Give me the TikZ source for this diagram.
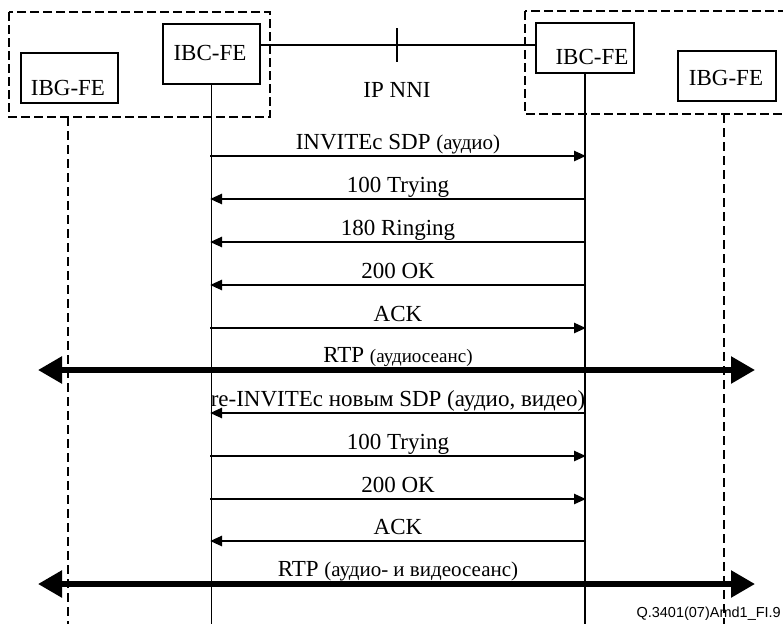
\documentclass[tikz,border=0pt]{standalone}
\usepackage{fontspec}
\setmainfont{Liberation Serif}
\newfontfamily\footfont{Liberation Sans}
\usetikzlibrary{arrows.meta,calc}
\begin{document}
\begin{tikzpicture}[x=1pt,y=-1pt,
  box/.style={draw,line width=2pt,inner sep=0pt,anchor=north west},
  group/.style={draw,line width=2.5pt,dash pattern=on 9pt off 4pt},
  life/.style={line width=1.5pt},
  glife/.style={line width=2.2pt,dash pattern=on 9pt off 5pt},
  msg/.style={line width=2.5pt,-{Triangle[length=12pt,width=10pt]}},
  rtp/.style={line width=5.5pt,{Triangle[length=24pt,width=26pt]}-{Triangle[length=24pt,width=26pt]}},
  lbl/.style={font=\fontsize{23}{26}\selectfont,inner sep=0pt,anchor=base},
]
\useasboundingbox (0,0) rectangle (783,624);
\clip (0,0) rectangle (783,624);
% groups
\draw[group] (9,12) rectangle (270,117);
\draw[group] (525,11) rectangle (800,114);
% boxes
\node[box,minimum width=97pt,minimum height=60pt] (ibcL) at (162,23) {};
\node[lbl] (ibcLt) at (210,60) {IBC-FE};
\node[box,minimum width=97pt,minimum height=50pt] (ibgL) at (20,52) {};
\node[lbl] (ibgLt) at (68,95) {IBG-FE};
\node[box,minimum width=98pt,minimum height=50pt] (ibcR) at (535,22) {};
\node[lbl] (ibcRt) at (592,64) {IBC-FE};
\node[box,minimum width=98pt,minimum height=50pt] (ibgR) at (677,50) {};
\node[lbl] (ibgRt) at (726,85) {IBG-FE};
% NNI
\coordinate (nni) at (397,45);
\draw[line width=1.6pt] (ibcL.east |- nni) -- (ibcR.west |- nni);
\draw[line width=1.6pt] (397,28) -- (397,62);
\node[lbl] (nnit) at (397,97) {IP NNI};
% lifelines
\coordinate (bot) at (0,624);
\coordinate (gL) at (68,117);
\coordinate (gR) at (724,114);
\draw[life] (ibcL.south) -- (ibcL.south |- bot);
\draw[life] (ibcR.south) -- (ibcR.south |- bot);
\draw[glife] (gL) -- (gL |- bot);
\draw[glife] (gR) -- (gR |- bot);
% message coordinates
\foreach \i/\y in {1/156,2/199,3/242,4/285,5/328,6/370,7/413,8/456,9/499,10/541,11/584}{
  \coordinate (a\i) at (210,\y);
  \coordinate (b\i) at (586,\y);
}
\coordinate (r6l) at (38,370);
\coordinate (r6r) at (755,370);
\coordinate (r11l) at (38,584);
\coordinate (r11r) at (755,584);
% messages
\draw[msg] (a1) -- (b1);
\node[lbl] (t1) at ($(a1)!0.5!(b1)+(0,-7)$) {INVITEc SDP {\fontsize{21}{24}\selectfont(аудио)}};
\draw[msg] (b2) -- (a2);
\node[lbl] (t2) at ($(a2)!0.5!(b2)+(0,-7)$) {100 Trying};
\draw[msg] (b3) -- (a3);
\node[lbl] (t3) at ($(a3)!0.5!(b3)+(0,-7)$) {180 Ringing};
\draw[msg] (b4) -- (a4);
\node[lbl] (t4) at ($(a4)!0.5!(b4)+(0,-7)$) {200 OK};
\draw[msg] (a5) -- (b5);
\node[lbl] (t5) at ($(a5)!0.5!(b5)+(0,-7)$) {ACK};
\draw[rtp] (r6l) -- (r6r);
\node[lbl] (t6) at ($(a6)!0.5!(b6)+(0,-8)$) {RTP {\fontsize{19}{22}\selectfont(аудиосеанс)}};
\draw[msg] (b7) -- (a7);
\node[lbl] (t7) at ($(a7)!0.5!(b7)+(0,-7)$) {re-INVITEc новым SDP (аудио, видео)};
\draw[msg] (a8) -- (b8);
\node[lbl] (t8) at ($(a8)!0.5!(b8)+(0,-7)$) {100 Trying};
\draw[msg] (a9) -- (b9);
\node[lbl] (t9) at ($(a9)!0.5!(b9)+(0,-7)$) {200 OK};
\draw[msg] (b10) -- (a10);
\node[lbl] (t10) at ($(a10)!0.5!(b10)+(0,-7)$) {ACK};
\draw[rtp] (r11l) -- (r11r);
\node[lbl] (t11) at ($(a11)!0.5!(b11)+(0,-8)$) {RTP {\fontsize{21}{24}\selectfont(аудио- и видеосеанс)}};
% footnote
\node[font=\footfont\fontsize{14.5}{16}\selectfont,anchor=base east,inner sep=0pt] (fn) at (781,617) {Q.3401(07)Amd1\_FI.9};
\end{tikzpicture}
\end{document}
